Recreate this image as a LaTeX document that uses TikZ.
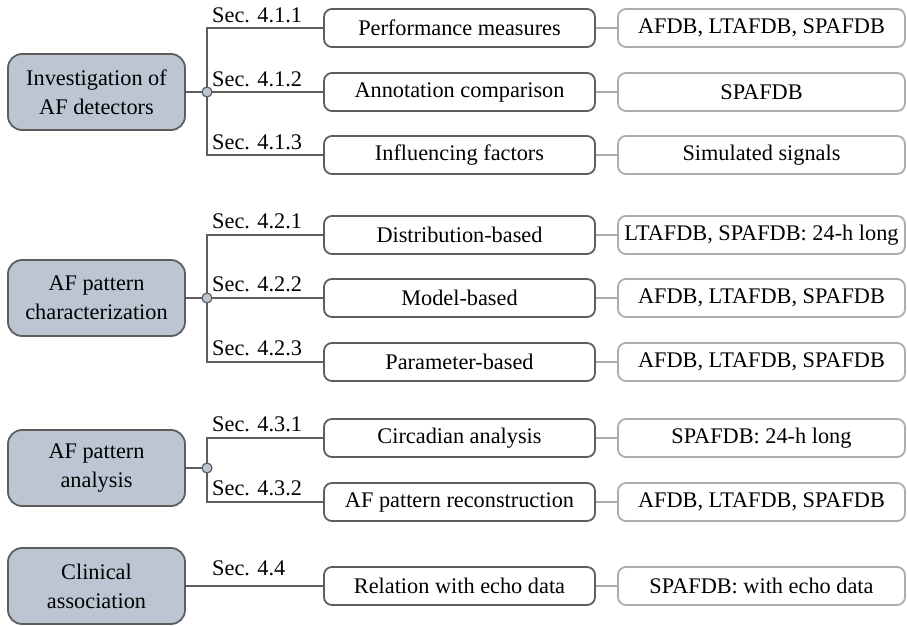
\documentclass[tikz,border=0pt]{standalone}
\usepackage{fontspec}
\setmainfont{Liberation Serif}
\usetikzlibrary{backgrounds}
\definecolor{edge}{HTML}{5E5E5E}
\definecolor{light}{HTML}{ACACAC}
\definecolor{topicfill}{HTML}{BCC6D3}
\begin{document}
\begin{tikzpicture}[x=1pt,y=-1pt,
  base/.style={font=\fontsize{22.3}{29}\selectfont, inner sep=0pt, align=center, text=black},
  topic/.style={base, draw=edge, fill=topicfill, line width=1.8pt, rounded corners=14pt,
    minimum width=177pt, minimum height=76pt},
  method/.style={base, draw=edge, line width=1.8pt, rounded corners=8pt,
    minimum width=271pt, minimum height=38pt},
  data/.style={base, draw=light, line width=1.8pt, rounded corners=8pt,
    minimum width=287pt, minimum height=38pt},
  tree/.style={draw=edge, line width=1.8pt},
  link/.style={draw=light, line width=1.8pt},
  sec/.style={base, anchor=base west},
  hub/.style={circle, draw=edge, fill=topicfill, line width=1.2pt, minimum size=10pt, inner sep=0pt}]
\useasboundingbox (0,0) rectangle (907,625);

% topic boxes
\node[topic] (t1) at (96.5,92)  {Investigation of\\AF detectors};
\node[topic] (t2) at (96.5,298) {AF pattern\\characterization};
\node[topic] (t3) at (96.5,468) {AF pattern\\analysis};
\node[topic] (t4) at (96.5,586) {Clinical\\association};

% branching points
\node[hub] (h1) at (207,92)  {};
\node[hub] (h2) at (207,298) {};
\node[hub] (h3) at (207,468) {};

% method boxes
\node[method] (m11) at (459.5,28)  {Performance measures};
\node[method] (m12) at (459.5,92)  {Annotation comparison};
\node[method] (m13) at (459.5,155) {Influencing factors};
\node[method] (m21) at (459.5,235) {Distribution-based};
\node[method] (m22) at (459.5,298) {Model-based};
\node[method] (m23) at (459.5,362) {Parameter-based};
\node[method] (m31) at (459.5,438) {Circadian analysis};
\node[method] (m32) at (459.5,502) {AF pattern reconstruction};
\node[method] (m41) at (459.5,586) {Relation with echo data};

% data boxes
\node[data] (d11) at (761.5,28)  {AFDB, LTAFDB, SPAFDB};
\node[data] (d12) at (761.5,92)  {SPAFDB};
\node[data] (d13) at (761.5,155) {Simulated signals};
\node[data] (d21) at (761.5,235) {LTAFDB, SPAFDB: 24-h long};
\node[data] (d22) at (761.5,298) {AFDB, LTAFDB, SPAFDB};
\node[data] (d23) at (761.5,362) {AFDB, LTAFDB, SPAFDB};
\node[data] (d31) at (761.5,438) {SPAFDB: 24-h long};
\node[data] (d32) at (761.5,502) {AFDB, LTAFDB, SPAFDB};
\node[data] (d41) at (761.5,586) {SPAFDB: with echo data};

% section labels
\node[sec] at (212,22)    {Sec. 4.1.1};
\node[sec] at (212,86)    {Sec. 4.1.2};
\node[sec] at (212,149)   {Sec. 4.1.3};
\node[sec] at (212,228.5) {Sec. 4.2.1};
\node[sec] at (212,291.5) {Sec. 4.2.2};
\node[sec] at (212,355.5) {Sec. 4.2.3};
\node[sec] at (212,431)   {Sec. 4.3.1};
\node[sec] at (212,495.5) {Sec. 4.3.2};
\node[sec] at (212,575)   {Sec. 4.4};

% connectors
\begin{scope}[on background layer]
  \draw[tree] (t1.east) -- (h1.center);
  \draw[tree] (h1.center) |- (m11.west);
  \draw[tree] (h1.center) -- (m12.west);
  \draw[tree] (h1.center) |- (m13.west);
  \draw[tree] (t2.east) -- (h2.center);
  \draw[tree] (h2.center) |- (m21.west);
  \draw[tree] (h2.center) -- (m22.west);
  \draw[tree] (h2.center) |- (m23.west);
  \draw[tree] (t3.east) -- (h3.center);
  \draw[tree] (h3.center) |- (m31.west);
  \draw[tree] (h3.center) |- (m32.west);
  \draw[tree] (t4.east) -- (m41.west);
  \foreach \r in {11,12,13,21,22,23,31,32,41}
    \draw[link] (m\r.east) -- (d\r.west);
\end{scope}
\end{tikzpicture}
\end{document}
